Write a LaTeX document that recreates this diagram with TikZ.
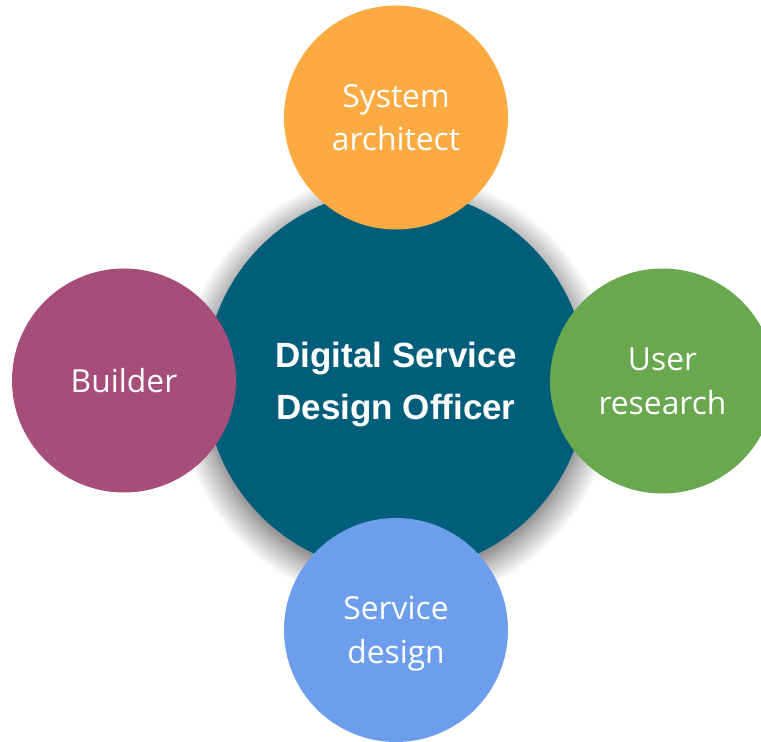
\documentclass[tikz,border=0pt]{standalone}
\usepackage{fontspec}
\setmainfont{Open Sans}
\newfontfamily\centerfont{Liberation Sans}
\usetikzlibrary{shadows.blur}
\definecolor{teal}{RGB}{0,94,122}
\definecolor{orangeC}{RGB}{252,170,66}
\definecolor{greenC}{RGB}{106,168,79}
\definecolor{blueC}{RGB}{109,158,235}
\definecolor{magentaC}{RGB}{166,77,121}
\tikzset{
  hub/.style={circle, fill=teal, minimum size=382pt, inner sep=0pt, text=white,
    align=center, text depth=0pt,
    font=\centerfont\bfseries\fontsize{35}{52}\selectfont,
    blur shadow={shadow xshift=0pt, shadow yshift=-8pt, shadow blur radius=28pt,
      shadow blur extra rounding=0pt, shadow scale=1.0,
      shadow blur steps=30, shadow opacity=70}},
  role/.style={circle, minimum size=224pt, inner sep=0pt, text=white,
    align=center, text depth=0pt, font=\fontsize{31.8}{43.5}\selectfont}
}
\begin{document}
\begin{tikzpicture}[x=1pt,y=1pt]
\useasboundingbox (0,0) rectangle (761,742);
\node[hub] (hub) at (396,361) {Digital Service\\Design Officer};
\node[role, fill=orangeC] (sys) at (396,624.5) {System\\architect};
\node[role, fill=magentaC] (bld) at (124,361.5) {Builder};
\node[role, fill=greenC, minimum size=225pt] (usr) at (662.5,361) {User\\research};
\node[role, fill=blueC] (svc) at (396,112) {Service\\design};
\end{tikzpicture}
\end{document}
